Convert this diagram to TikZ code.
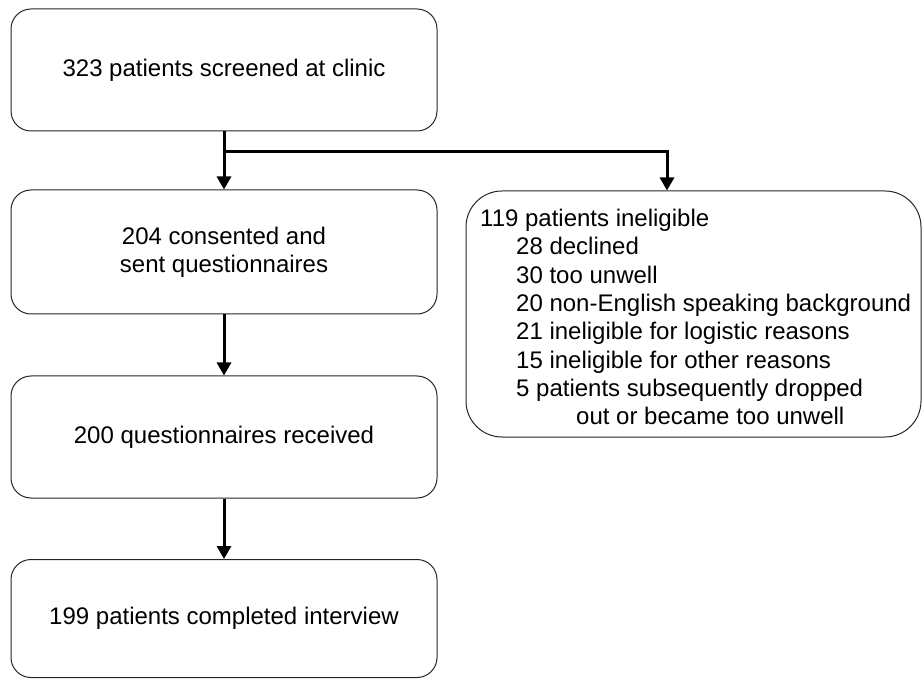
\documentclass[tikz,border=0pt]{standalone}
\usepackage{fontspec}
\setmainfont{Liberation Sans}
\usetikzlibrary{arrows.meta}
\begin{document}
\begin{tikzpicture}[x=1pt,y=-1pt,
  flowbox/.style={draw=black!85, line width=1pt, rounded corners=20pt,
    minimum width=426pt, align=center, inner sep=0pt,
    font=\fontsize{24}{28.3}\selectfont},
  sidebox/.style={draw=black!85, line width=1pt, rounded corners=36pt,
    minimum width=455pt, minimum height=246pt, inner sep=0pt},
  sidetext/.style={align=left, inner sep=0pt, anchor=north west,
    font=\fontsize{24}{28.3}\selectfont},
  flowarrow/.style={line width=3pt, -{Triangle[width=14pt,length=13pt]}}
]
\useasboundingbox (0,0) rectangle (922,679);
\node[flowbox, minimum height=122pt] (b1) at (224,70) {323 patients screened at clinic};
\node[flowbox, minimum height=124pt] (b2) at (224,252) {204 consented and\\sent questionnaires};
\node[flowbox, minimum height=122pt] (b3) at (224,437) {200 questionnaires received};
\node[flowbox, minimum height=118pt] (b4) at (224,618.5) {199 patients completed interview};
\node[sidebox] (r) at (693.5,314) {};
\node[sidetext] (rt) at (480,209) {119 patients ineligible\\
\hspace*{36pt}28 declined\\
\hspace*{36pt}30 too unwell\\
\hspace*{36pt}20 non-English speaking background\\
\hspace*{36pt}21 ineligible for logistic reasons\\
\hspace*{36pt}15 ineligible for other reasons\\
\hspace*{36pt}5 patients subsequently dropped\\
\hspace*{96pt}out or became too unwell};
\coordinate (split) at (b1.south |- 0,152);
\coordinate (rtop) at (667,152);
\draw[flowarrow] (b1.south) -- (b2.north);
\draw[flowarrow] (split) -- (rtop) -- (rtop |- r.north);
\draw[flowarrow] (b2.south) -- (b3.north);
\draw[flowarrow] (b3.south) -- (b4.north);
\end{tikzpicture}
\end{document}
